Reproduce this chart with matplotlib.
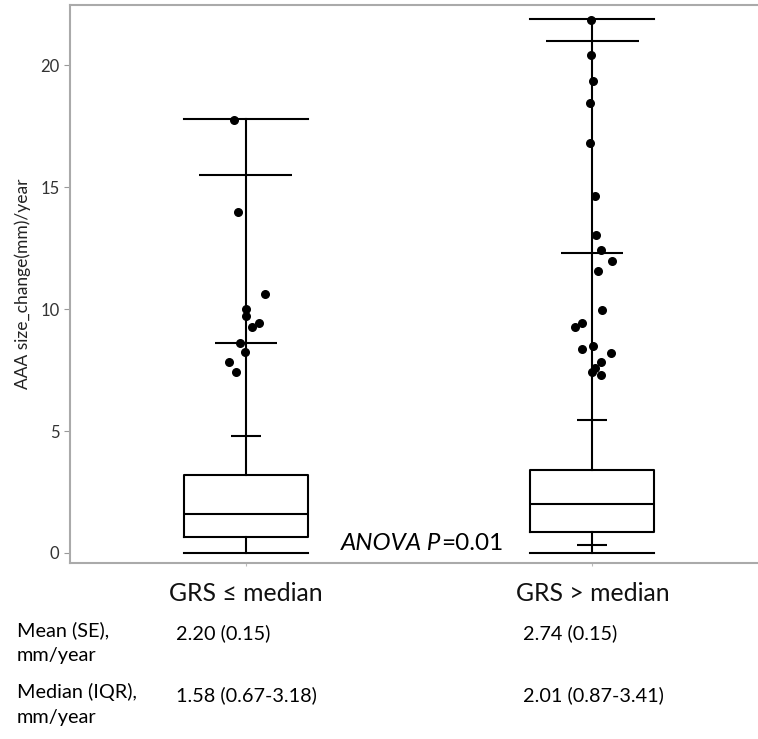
import numpy as np
import matplotlib
matplotlib.use('Agg')
import matplotlib.pyplot as plt

plt.rcParams['font.family'] = ['Lato', 'DejaVu Sans']

# groups and box statistics
groups = ['GRS \u2264 median', 'GRS > median']
positions = [1, 2]
q1 = [0.67, 0.87]
med = [1.58, 2.01]
q3 = [3.18, 3.41]
whis_lo = [0.0, 0.0]
whis_hi = [17.8, 21.9]

# extra horizontal markers on the whisker, with relative widths
marks_1 = [15.5, 8.6, 4.8]
marks_1_w = [0.75, 0.5, 0.24]
marks_2 = [20.97, 12.31, 5.45, 0.32]
marks_2_w = [0.75, 0.5, 0.24, 0.24]

# outlier points: values and horizontal offset from centre
pts_1 = [17.76, 13.98, 10.61, 10.01, 9.71, 9.43, 9.25, 8.59, 8.24, 7.83, 7.41]
off_1 = [-0.033, -0.021, 0.055, 0.001, 0.001, 0.037, 0.017, -0.016, -0.003, -0.049, -0.028]
pts_2 = [21.84, 20.41, 19.34, 18.46, 16.82, 14.63, 13.03, 12.41, 11.97, 11.56,
         9.96, 9.44, 9.25, 8.48, 8.37, 8.21, 7.84, 7.57, 7.43, 7.30]
off_2 = [-0.005, -0.005, 0.003, -0.007, -0.007, 0.008, 0.012, 0.024, 0.058, 0.016,
         0.029, -0.029, -0.051, 0.003, -0.029, 0.054, 0.024, 0.008, -0.002, 0.024]

row_labels = ['Mean (SE),\nmm/year', 'Median (IQR),\nmm/year']
row_vals_1 = ['2.20 (0.15)', '1.58 (0.67-3.18)']
row_vals_2 = ['2.74 (0.15)', '2.01 (0.87-3.41)']

box_w = 0.358

fig = plt.figure(figsize=(7.58, 7.39), dpi=100)
ax = fig.add_axes([70 / 758, 1 - 563 / 739, 688 / 758, 558 / 739])

stats = []
for i in range(2):
    stats.append({'med': med[i], 'q1': q1[i], 'q3': q3[i],
                  'whislo': whis_lo[i], 'whishi': whis_hi[i], 'fliers': []})
lp = dict(color='black', linewidth=1.5)
ax.bxp(stats, positions=positions, widths=box_w, capwidths=[box_w, box_w],
       showfliers=False, boxprops=lp, whiskerprops=lp, capprops=lp,
       medianprops=dict(color='black', linewidth=1.5))

for p, m, w in [(1, marks_1, marks_1_w), (2, marks_2, marks_2_w)]:
    for v, f in zip(m, w):
        ax.hlines(v, p - box_w * f / 2, p + box_w * f / 2, color='black', linewidth=1.5)

ax.scatter(np.array(off_1) + 1, pts_1, s=30, color='black', zorder=5)
ax.scatter(np.array(off_2) + 2, pts_2, s=30, color='black', zorder=5)

ax.set_xlim(0.493, 2.478)
ax.set_ylim(-0.41, 22.46)
ax.set_yticks([0, 5, 10, 15, 20])
ax.set_xticks(positions)
ax.set_xticklabels(groups, fontsize=17.8, color='#111111')
ax.tick_params(axis='x', length=2, color='#bbbbbb', pad=12)
ax.tick_params(axis='y', length=4, color='#999999', labelsize=12, labelcolor='#333333')
ax.set_ylabel('AAA size_change(mm)/year', fontsize=12.5, color='#222222', labelpad=7)

for s in ['left', 'top', 'bottom']:
    ax.spines[s].set_color('#aaaaaa')
    ax.spines[s].set_linewidth(1.5)
ax.spines['right'].set_visible(False)

ax.text(1.565, 0.12, 'ANOVA P', fontsize=17.5, style='italic', ha='right', va='baseline')
ax.text(1.565, 0.12, '=0.01', fontsize=17.5, ha='left', va='baseline')

row_y = [633, 695]
for i in range(2):
    fig.text(17 / 758, 1 - (row_y[i] - 12) / 739, row_labels[i], fontsize=14.3,
             va='top', ha='left', linespacing=1.6)
    fig.text(176 / 758, 1 - row_y[i] / 739, row_vals_1[i], fontsize=14.3, va='center', ha='left')
    fig.text(523 / 758, 1 - row_y[i] / 739, row_vals_2[i], fontsize=14.3, va='center', ha='left')

fig.savefig('out.png', dpi=100)
